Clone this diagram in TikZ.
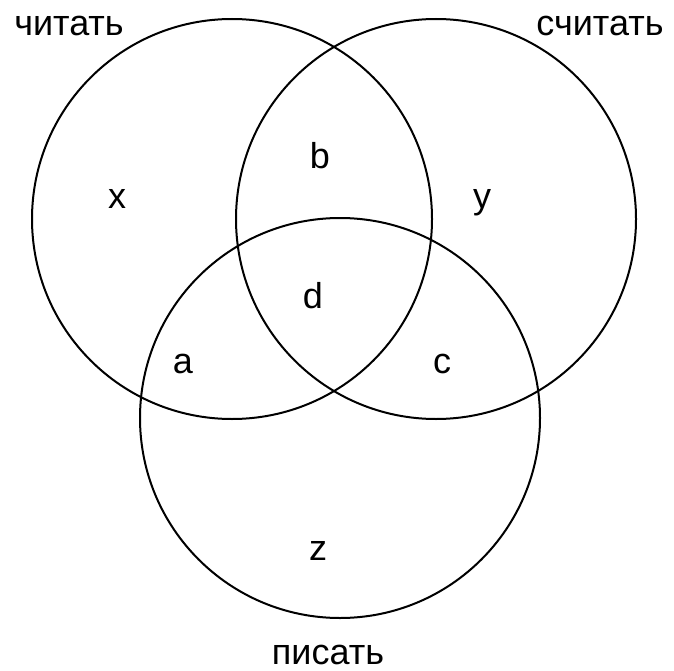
\documentclass[tikz,border=0pt]{standalone}
\usepackage{fontspec}
\setmainfont{Liberation Sans}
\begin{document}
\begin{tikzpicture}[x=1pt,y=-1pt,
  setring/.style={draw=black,line width=2pt,circle,minimum size=400pt,inner sep=0pt},
  lbl/.style={anchor=base,inner sep=0pt,font=\fontsize{36}{40}\selectfont}]
\useasboundingbox[fill=white] (0,0) rectangle (674,671);
\node[setring] (c1) at (232,219) {};
\node[setring] (c2) at (436,219) {};
\node[setring] (c3) at (340,418) {};
\node[lbl] (t1) at (69,36) {читать};
\node[lbl] (t2) at (600,36) {считать};
\node[lbl] (t3) at (328,664) {писать};
\node[lbl] (lx) at (117,208) {x};
\node[lbl] (lb) at (320,168) {b};
\node[lbl] (ly) at (482,208) {y};
\node[lbl] (ld) at (313,308) {d};
\node[lbl] (la) at (183,373) {a};
\node[lbl] (lc) at (442,373) {c};
\node[lbl] (lz) at (318,560) {z};
\end{tikzpicture}
\end{document}
